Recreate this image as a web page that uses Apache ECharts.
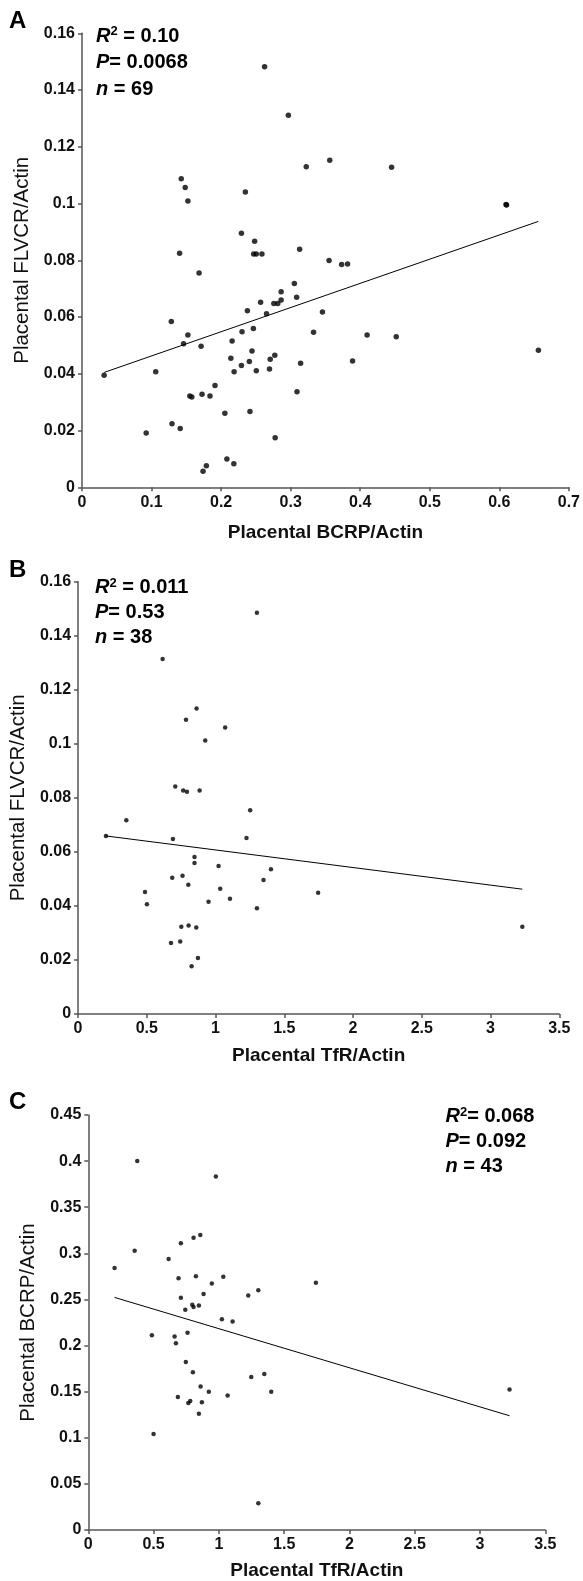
<!DOCTYPE html>
<html>
<head>
<meta charset="utf-8">
<script src="https://cdn.jsdelivr.net/npm/echarts@6/dist/echarts.min.js"></script>
<style>
html,body{margin:0;padding:0;background:#fff;}
#chart{width:583px;height:1581px;}
</style>
</head>
<body>
<div id="chart"></div>
<script>
// ---- Panel A: BCRP/Actin (x) vs FLVCR/Actin (y)
const pointsA = [
  [0.2625,0.1482],[0.2967,0.1311],[0.1427,0.1087],[0.1484,0.1057],[0.1522,0.1009],
  [0.2349,0.1041],[0.2292,0.0895],[0.2482,0.0867],[0.1403,0.0825],[0.2468,0.0822],
  [0.2506,0.0822],[0.2587,0.0822],[0.1683,0.0755],[0.3053,0.0718],[0.3086,0.0670],
  [0.2863,0.0689],[0.2863,0.0660],[0.2815,0.0648],[0.2758,0.0648],[0.2568,0.0652],
  [0.2378,0.0622],[0.2653,0.0612],[0.1284,0.0584],[0.2464,0.0560],[0.1522,0.0537],
  [0.2301,0.0548],[0.2158,0.0516],[0.1460,0.0506],[0.1712,0.0497],[0.2444,0.0480],
  [0.2772,0.0465],[0.2140,0.0455],[0.2706,0.0451],[0.2406,0.0443],[0.2292,0.0429],
  [0.2696,0.0417],[0.2187,0.0407],[0.2506,0.0411],[0.1060,0.0407],[0.0318,0.0395],
  [0.1912,0.0359],[0.1550,0.0322],[0.1579,0.0318],[0.1726,0.0328],[0.1840,0.0322],
  [0.3091,0.0337],[0.2054,0.0261],[0.2415,0.0267],[0.1294,0.0224],[0.1412,0.0207],
  [0.0923,0.0191],[0.2777,0.0175],[0.2083,0.0100],[0.2183,0.0083],[0.1788,0.0076],
  [0.1740,0.0057],[0.3129,0.0839],[0.3552,0.0799],[0.3733,0.0785],[0.3818,0.0787],
  [0.3457,0.0618],[0.3329,0.0546],[0.4099,0.0537],[0.4518,0.0531],[0.6562,0.0483],
  [0.3143,0.0437],[0.3890,0.0445],[0.3224,0.1130],[0.3562,0.1153],[0.4451,0.1128],
  [0.6096,0.0997],[0.6104,0.0995]
];
const fitA = [[0.032,0.0405],[0.656,0.0937]];
const statsA = ['0.10','0.0068','69'];

// ---- Panel B: TfR/Actin (x) vs FLVCR/Actin (y)
const pointsB = [
  [1.301,0.1485],[0.615,0.1314],[0.862,0.1131],[0.785,0.1089],[1.070,0.1060],
  [0.925,0.1012],[0.707,0.0842],[0.765,0.0827],[0.792,0.0823],[0.884,0.0827],
  [1.252,0.0754],[0.351,0.0717],[0.203,0.0659],[0.690,0.0648],[1.225,0.0651],
  [0.847,0.0581],[0.847,0.0559],[1.022,0.0548],[1.403,0.0536],[0.760,0.0512],
  [0.685,0.0504],[1.349,0.0496],[0.802,0.0478],[1.034,0.0464],[0.487,0.0452],
  [1.105,0.0427],[0.949,0.0415],[0.501,0.0406],[1.301,0.0391],[0.751,0.0323],
  [0.804,0.0328],[0.860,0.0320],[0.676,0.0263],[0.743,0.0268],[0.872,0.0207],
  [0.826,0.0177],[1.746,0.0449],[3.231,0.0323]
];
const fitB = [[0.203,0.0659],[3.231,0.0462]];
const statsB = ['0.011','0.53','38'];

// ---- Panel C: TfR/Actin (x) vs BCRP/Actin (y)
const pointsC = [
  [0.375,0.4002],[0.977,0.3833],[0.858,0.3200],[0.806,0.3168],[0.709,0.3108],
  [0.355,0.3028],[0.615,0.2939],[0.201,0.2842],[0.691,0.2731],[0.824,0.2752],
  [1.034,0.2745],[0.946,0.2672],[0.883,0.2558],[1.225,0.2543],[1.302,0.2601],
  [0.709,0.2518],[0.796,0.2443],[0.806,0.2418],[0.847,0.2435],[0.743,0.2389],
  [1.023,0.2284],[1.105,0.2260],[0.487,0.2112],[0.661,0.2098],[0.760,0.2138],
  [0.671,0.2026],[0.747,0.1821],[0.801,0.1710],[1.248,0.1660],[1.348,0.1692],
  [0.860,0.1556],[0.923,0.1498],[1.401,0.1498],[1.067,0.1459],[0.686,0.1441],
  [0.781,0.1398],[0.766,0.1376],[0.870,0.1384],[0.847,0.1261],[0.500,0.1042],
  [1.302,0.0291],[1.743,0.2680],[3.226,0.1524]
];
const fitC = [[0.201,0.2522],[3.226,0.1239]];
const statsC = ['0.068','0.092','43'];

const axisTitles = {
  xA: 'Placental BCRP/Actin', yA: 'Placental FLVCR/Actin',
  xB: 'Placental TfR/Actin',  yB: 'Placental FLVCR/Actin',
  xC: 'Placental TfR/Actin',  yC: 'Placental BCRP/Actin'
};
const panelLetters = ['A','B','C'];

const FONT = '"Liberation Sans", Arial, Helvetica, sans-serif';
const chart = echarts.init(document.getElementById('chart'), null, {renderer:'canvas'});

const axisLineStyle = {lineStyle:{color:'#555', width:1.5}};
const tickStyle = {show:true, inside:false, length:4, lineStyle:{color:'#555', width:1.5}};
const tickLabel = (m) => ({color:'#111', fontFamily:FONT, fontWeight:'bold', fontSize:16, margin:m});

function xAx(idx, max, interval, name, gap){
  return {gridIndex:idx, type:'value', min:0, max:max, interval:interval,
    axisLine:Object.assign({show:true, onZero:false}, axisLineStyle),
    axisTick:tickStyle, splitLine:{show:false},
    axisLabel:tickLabel(7),
    name:name, nameLocation:'middle', nameGap:gap,
    nameTextStyle:{color:'#111', fontFamily:FONT, fontWeight:'bold', fontSize:19}};
}
function yAx(idx, max, interval, name, gap){
  return {gridIndex:idx, type:'value', min:0, max:max, interval:interval,
    axisLine:Object.assign({show:true, onZero:false}, axisLineStyle),
    axisTick:tickStyle, splitLine:{show:false},
    axisLabel:tickLabel(7),
    name:name, nameLocation:'middle', nameGap:gap, nameRotate:90,
    nameTextStyle:{color:'#111', fontFamily:FONT, fontWeight:'normal', fontSize:20.5}};
}
function scatter(idx, data, size){
  return {type:'scatter', xAxisIndex:idx, yAxisIndex:idx, data:data, symbolSize:size,
    itemStyle:{color:'#000'}, silent:true, z:3};
}
function fit(idx, data){
  return {type:'line', xAxisIndex:idx, yAxisIndex:idx, data:data, symbol:'none',
    lineStyle:{color:'#000', width:1}, silent:true, z:2};
}
function statText(x, y0, dy, stats, eqSpace){
  const rich = {
    it:{fontFamily:FONT, fontWeight:'bold', fontStyle:'italic', fontSize:20, fill:'#000'},
    b:{fontFamily:FONT, fontWeight:'bold', fontSize:20, fill:'#000'},
    s:{fontFamily:FONT, fontWeight:'bold', fontSize:13, fill:'#000', padding:[0,0,9,0]}
  };
  const lines = [
    '{it|R}{s|2}{b|' + (eqSpace ? ' ' : '') + '= ' + stats[0] + '}',
    '{it|P}{b|= ' + stats[1] + '}',
    '{it|n}{b| = ' + stats[2] + '}'
  ];
  return lines.map((t,i) => ({type:'text', x:x, y:y0 + i*dy,
    style:{text:t, rich:rich, align:'left', verticalAlign:'middle', fill:'#000',
      font:'bold 20px ' + FONT}}));
}
function letter(x, y, t){
  return {type:'text', x:x, y:y, style:{text:t, fill:'#000', font:'bold 24px ' + FONT,
    align:'left', verticalAlign:'middle'}};
}

chart.setOption({
  backgroundColor:'#fff',
  animation:false,
  grid:[
    {left:82, top:33.3, width:490.7, height:454},
    {left:77.7, top:581.7, width:481.6, height:432.3},
    {left:88.3, top:1115, width:457, height:416.7}
  ],
  xAxis:[
    xAx(0, 0.7, 0.1, axisTitles.xA, 36),
    xAx(1, 3.5, 0.5, axisTitles.xB, 32),
    xAx(2, 3.5, 0.5, axisTitles.xC, 31)
  ],
  yAxis:[
    yAx(0, 0.16, 0.02, axisTitles.yA, 47),
    yAx(1, 0.16, 0.02, axisTitles.yB, 44),
    yAx(2, 0.45, 0.05, axisTitles.yC, 42)
  ],
  series:[
    scatter(0, pointsA, 5.5), fit(0, fitA),
    scatter(1, pointsB, 4.5), fit(1, fitB),
    scatter(2, pointsC, 4.5), fit(2, fitC)
  ],
  graphic:[
    letter(9, 21, panelLetters[0]),
    letter(9, 570, panelLetters[1]),
    letter(9, 1102, panelLetters[2]),
    ...statText(96, 36, 26.7, statsA, true),
    ...statText(95, 587.5, 25.2, statsB, true),
    ...statText(445.5, 1116.7, 25, statsC, false)
  ]
});
</script>
</body>
</html>
